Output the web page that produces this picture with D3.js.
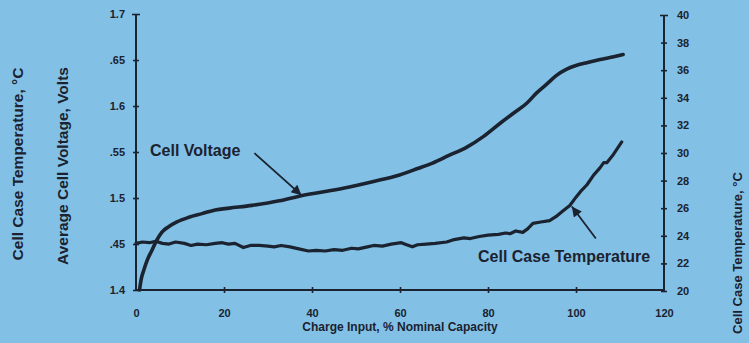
<!DOCTYPE html>
<html>
<head>
<meta charset="utf-8">
<script src="https://cdn.jsdelivr.net/npm/d3@7"></script>
<style>
  html, body { margin: 0; padding: 0; background: #82c1e5; }
  svg { display: block; }
  text { font-family: "Liberation Sans", Arial, Helvetica, sans-serif; font-weight: bold; fill: #1b2230; }
</style>
</head>
<body>
<svg id="chart" width="749" height="343"></svg>
<script>
// Charge input (% of nominal capacity) vs. average cell voltage (V)
const voltageCharge = [0.8, 1.2, 1.8, 2.6, 3.6, 4.7, 5.9, 7.5, 9.3, 12, 15, 18, 21.2, 26.4, 32.6, 37.1, 43, 48.5, 54, 59.9, 64, 67.4, 71, 75.1, 79, 82.7, 86, 88.8, 91, 93.4, 95.5, 97.9, 100, 102.5, 105, 107, 110.7];
const voltageValues = [1.400, 1.412, 1.422, 1.433, 1.443, 1.454, 1.463, 1.469, 1.474, 1.479, 1.483, 1.487, 1.489, 1.492, 1.497, 1.502, 1.507, 1.512, 1.518, 1.525, 1.532, 1.538, 1.546, 1.555, 1.567, 1.581, 1.593, 1.603, 1.614, 1.624, 1.633, 1.640, 1.644, 1.647, 1.650, 1.652, 1.656];

// Charge input (%) vs. cell case temperature (°C)
const tempCharge = [0, 1.5, 3, 4.5, 6, 7.5, 9, 11, 12.5, 14, 16, 18, 19.6, 21, 22.5, 24.4, 26, 28, 30, 31.4, 33, 35, 37, 39.2, 41, 43, 45, 47, 49, 50.5, 52.6, 54, 56, 58, 60.3, 61.5, 62.8, 64, 66, 68, 70.6, 72, 74.5, 76, 78, 80, 82.4, 84, 85, 86.3, 87.9, 89, 90.2, 92, 94, 95.5, 97, 98.6, 100, 101, 102.5, 104, 105.4, 106.3, 107, 108.5, 110.4];
const tempValues = [23.45, 23.55, 23.5, 23.6, 23.45, 23.4, 23.55, 23.45, 23.3, 23.4, 23.35, 23.45, 23.5, 23.4, 23.45, 23.15, 23.3, 23.3, 23.25, 23.2, 23.3, 23.2, 23.05, 22.9, 22.95, 22.9, 23.0, 22.95, 23.1, 23.05, 23.2, 23.3, 23.25, 23.4, 23.5, 23.35, 23.2, 23.35, 23.4, 23.45, 23.55, 23.7, 23.85, 23.8, 23.95, 24.05, 24.1, 24.2, 24.15, 24.35, 24.25, 24.5, 24.9, 25.0, 25.1, 25.4, 25.8, 26.2, 26.8, 27.2, 27.7, 28.4, 28.9, 29.3, 29.3, 29.9, 30.8];

// Axis ticks and labels
const xTicks = [0, 20, 40, 60, 80, 100, 120];
const voltTicks = [1.40, 1.45, 1.50, 1.55, 1.60, 1.65, 1.70];
const voltTickLabels = ["1.4", ".45", "1.5", ".55", "1.6", ".65", "1.7"];
const tempTicks = [20, 22, 24, 26, 28, 30, 32, 34, 36, 38, 40];

const ink = "#1b2230";
const svg = d3.select("#chart");

const x = d3.scaleLinear().domain([0, 120]).range([136, 664]);
const yV = d3.scaleLinear().domain([1.4, 1.7]).range([290, 14]);
const yT = d3.scaleLinear().domain([20, 40]).range([291, 15]);

// Axes: ticks cross the axis line
function crossTicks(g) {
  g.select(".domain").remove();
  g.selectAll(".tick line").attr("stroke", ink).attr("stroke-width", 1.6);
  g.selectAll(".tick text").style("font-size", "11px").attr("fill", ink);
}

const leftAxis = svg.append("g")
  .attr("transform", `translate(${x(0)},0)`)
  .call(d3.axisLeft(yV).tickValues(voltTicks)
    .tickFormat((d, i) => voltTickLabels[i]).tickSize(3).tickPadding(8));
crossTicks(leftAxis);
leftAxis.selectAll(".tick line").attr("x1", 3);
leftAxis.selectAll(".tick").filter(d => d === 1.7).select("line").attr("x1", 4).attr("x2", -4);

const rightAxis = svg.append("g")
  .attr("transform", `translate(${x(120)},0)`)
  .call(d3.axisRight(yT).tickValues(tempTicks).tickSize(3).tickPadding(10));
crossTicks(rightAxis);
rightAxis.selectAll(".tick line").attr("x1", -3);
rightAxis.selectAll(".tick").filter(d => d === 40).select("line").attr("x1", -4).attr("x2", 4);

const bottomAxis = svg.append("g")
  .attr("transform", `translate(0,${yV(1.4)})`)
  .call(d3.axisBottom(x).tickValues(xTicks).tickSize(3).tickPadding(16));
crossTicks(bottomAxis);
bottomAxis.selectAll(".tick line").attr("y1", -3);
bottomAxis.selectAll(".tick").filter(d => d === 0 || d === 120).select("line").remove();

// Axis lines
svg.append("line").attr("x1", x(0)).attr("x2", x(0)).attr("y1", yV(1.4)).attr("y2", yV(1.7))
  .attr("stroke", ink).attr("stroke-width", 2);
svg.append("line").attr("x1", x(120)).attr("x2", x(120)).attr("y1", yT(20)).attr("y2", yT(40))
  .attr("stroke", ink).attr("stroke-width", 2);
svg.append("line").attr("x1", x(0) - 1).attr("x2", x(120) + 1).attr("y1", yV(1.4)).attr("y2", yV(1.4))
  .attr("stroke", ink).attr("stroke-width", 2);

// Temperature curve (right axis)
const tempLine = d3.line().x(d => x(d[0])).y(d => yT(d[1])).curve(d3.curveLinear);
svg.append("path")
  .datum(tempCharge.map((c, i) => [c, tempValues[i]]))
  .attr("d", tempLine)
  .attr("fill", "none").attr("stroke", ink).attr("stroke-width", 3.2)
  .attr("stroke-linejoin", "round").attr("stroke-linecap", "round");

// Voltage curve (left axis)
const voltLine = d3.line().x(d => x(d[0])).y(d => yV(d[1])).curve(d3.curveMonotoneX);
svg.append("path")
  .datum(voltageCharge.map((c, i) => [c, voltageValues[i]]))
  .attr("d", voltLine)
  .attr("fill", "none").attr("stroke", ink).attr("stroke-width", 3.6)
  .attr("stroke-linejoin", "round").attr("stroke-linecap", "round");

// Arrowhead marker
svg.append("defs").append("marker")
  .attr("id", "head").attr("viewBox", "0 0 10 10")
  .attr("refX", 10).attr("refY", 5)
  .attr("markerUnits", "userSpaceOnUse")
  .attr("markerWidth", 13).attr("markerHeight", 10)
  .attr("orient", "auto")
  .append("path").attr("d", "M0,0 L10,5 L0,10 Z").attr("fill", ink);

// Annotations
const vTip = [x(37.6), yV(1.502) - 1];
svg.append("line")
  .attr("x1", vTip[0] - 47).attr("y1", vTip[1] - 42)
  .attr("x2", vTip[0]).attr("y2", vTip[1])
  .attr("stroke", ink).attr("stroke-width", 1.8).attr("marker-end", "url(#head)");
svg.append("text").attr("x", 150).attr("y", 156).style("font-size", "16px").text("Cell Voltage");

const tTip = [x(98.6) + 2, yT(26.2) + 1];
svg.append("line")
  .attr("x1", tTip[0] + 24).attr("y1", tTip[1] + 32)
  .attr("x2", tTip[0]).attr("y2", tTip[1])
  .attr("stroke", ink).attr("stroke-width", 1.8).attr("marker-end", "url(#head)");
svg.append("text").attr("x", 478).attr("y", 262).style("font-size", "16px").text("Cell Case Temperature");

// Axis titles
svg.append("text").attr("transform", "translate(23,164) rotate(-90)")
  .attr("text-anchor", "middle").style("font-size", "15.5px").text("Cell Case Temperature, °C");
svg.append("text").attr("transform", "translate(68,166) rotate(-90)")
  .attr("text-anchor", "middle").style("font-size", "15.5px").text("Average Cell Voltage, Volts");
svg.append("text").attr("transform", "translate(742,253) rotate(-90)")
  .attr("text-anchor", "middle").style("font-size", "13px").text("Cell Case Temperature, °C");
svg.append("text").attr("x", 400).attr("y", 331)
  .attr("text-anchor", "middle").style("font-size", "12px").text("Charge Input, % Nominal Capacity");
</script>
</body>
</html>
